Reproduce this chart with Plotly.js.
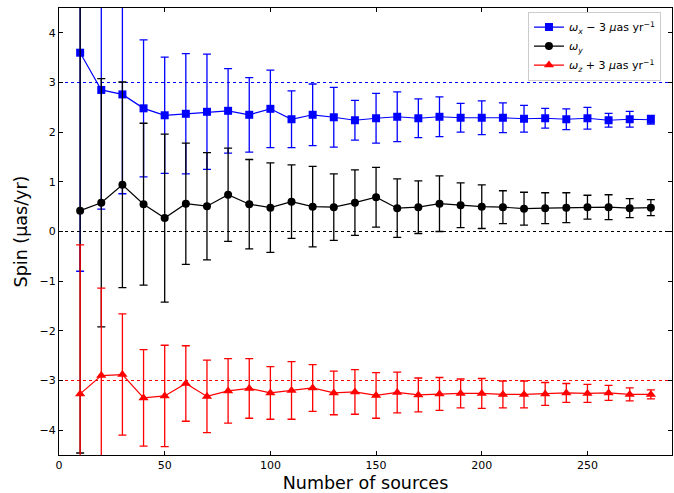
<!DOCTYPE html>
<html>
<head>
<meta charset="utf-8">
<script src="https://cdn.plot.ly/plotly-3.0.1.min.js"></script>
<style>html,body{margin:0;padding:0;background:#fff;}#chart{width:674px;height:493px;}</style>
</head>
<body>
<div id="chart"></div>
<script>
const nSources = [10,20,30,40,50,60,70,80,90,100,110,120,130,140,150,160,170,180,190,200,210,220,230,240,250,260,270,280];

const omegaX = [3.60,2.85,2.76,2.48,2.34,2.37,2.41,2.43,2.35,2.47,2.26,2.35,2.30,2.24,2.28,2.31,2.28,2.31,2.29,2.29,2.29,2.27,2.28,2.26,2.28,2.24,2.26,2.25];
const omegaXErr = [4.40,2.40,2.00,1.38,1.17,1.21,1.16,0.85,0.75,0.78,0.57,0.62,0.60,0.40,0.50,0.50,0.39,0.40,0.29,0.34,0.30,0.27,0.20,0.21,0.22,0.14,0.16,0.09];

const omegaY = [0.42,0.58,0.94,0.55,0.27,0.56,0.51,0.74,0.55,0.48,0.60,0.50,0.49,0.58,0.69,0.47,0.49,0.56,0.53,0.50,0.49,0.46,0.47,0.48,0.49,0.49,0.47,0.48];
const omegaYErr = [4.88,2.50,2.07,1.63,1.69,1.22,1.08,0.94,0.90,0.90,0.74,0.81,0.67,0.66,0.60,0.59,0.53,0.56,0.45,0.44,0.33,0.33,0.31,0.30,0.24,0.25,0.19,0.16];

const omegaZ = [-3.27,-2.90,-2.88,-3.35,-3.31,-3.06,-3.32,-3.21,-3.16,-3.25,-3.20,-3.15,-3.25,-3.23,-3.30,-3.24,-3.29,-3.27,-3.26,-3.26,-3.28,-3.28,-3.27,-3.25,-3.26,-3.25,-3.28,-3.28];
const omegaZErr = [3.00,1.76,1.22,0.97,1.02,0.76,0.73,0.65,0.60,0.53,0.58,0.47,0.44,0.45,0.46,0.41,0.34,0.33,0.29,0.30,0.27,0.27,0.23,0.19,0.18,0.15,0.13,0.09];

const refLevels = [3, 0, -3];
const refColors = ['blue', 'black', 'red'];

const names = [
  '<i>ω</i><sub><i>x</i></sub> − 3 <i>μ</i>as yr<sup>−1</sup>',
  '<i>ω</i><sub><i>y</i></sub>',
  '<i>ω</i><sub><i>z</i></sub> + 3 <i>μ</i>as yr<sup>−1</sup>'
];

function series(y, err, color, symbol, name, size) {
  return {
    x: nSources, y: y, name: name, type: 'scatter', mode: 'lines+markers',
    line: {color: color, width: 1.2},
    marker: {color: color, symbol: symbol, size: size},
    error_y: {type: 'data', array: err, visible: true, color: color, thickness: 1.3, width: 4}
  };
}

const data = [
  series(omegaX, omegaXErr, 'blue', 'square', names[0], 8),
  series(omegaY, omegaYErr, 'black', 'circle', names[1], 8),
  series(omegaZ, omegaZErr, 'red', 'triangle-up', names[2], 9)
];

const shapes = refLevels.map((v, i) => ({
  type: 'line', xref: 'paper', x0: 0, x1: 1, yref: 'y', y0: v, y1: v,
  line: {color: refColors[i], width: 1, dash: 'dot'}, layer: 'below'
}));

const axisCommon = {
  showgrid: false, zeroline: false, showline: true, linecolor: 'black', linewidth: 1,
  mirror: 'allticks', ticks: 'inside', ticklen: 4, tickwidth: 1, tickcolor: 'black',
  tickfont: {family: 'DejaVu Sans', size: 11, color: 'black'}
};

const layout = {
  width: 674, height: 493,
  margin: {l: 59, r: 2, t: 8, b: 38},
  paper_bgcolor: 'white', plot_bgcolor: 'white',
  font: {family: 'DejaVu Sans', color: 'black'},
  showlegend: true,
  legend: {
    x: 0.982, y: 0.992, xanchor: 'right', yanchor: 'top',
    bgcolor: 'rgba(255,255,255,0.8)', bordercolor: '#cccccc', borderwidth: 1,
    font: {family: 'DejaVu Sans', size: 11, color: 'black'},
    tracegroupgap: 0, itemwidth: 30
  },
  xaxis: Object.assign({}, axisCommon, {
    range: [0, 290], tickvals: [0, 50, 100, 150, 200, 250],
    title: {text: 'Number of sources', font: {family: 'DejaVu Sans', size: 17.5, color: 'black'}, standoff: 5}
  }),
  yaxis: Object.assign({}, axisCommon, {
    range: [-4.5, 4.5], tickvals: [-4, -3, -2, -1, 0, 1, 2, 3, 4],
    title: {text: 'Spin (μas/yr)', font: {family: 'DejaVu Sans', size: 17.5, color: 'black'}, standoff: 7}
  }),
  shapes: shapes
};

Plotly.newPlot('chart', data, layout, {displayModeBar: false, staticPlot: true});
</script>
</body>
</html>
